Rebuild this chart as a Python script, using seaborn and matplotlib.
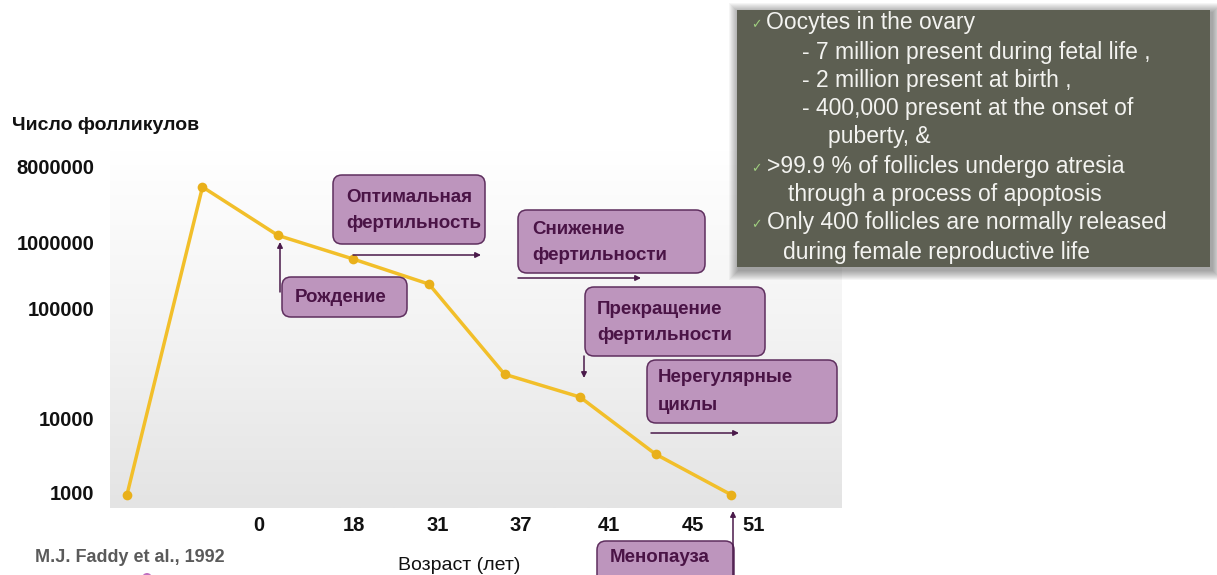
import numpy as np
import pandas as pd
import matplotlib
matplotlib.use("Agg")
import matplotlib.pyplot as plt
import seaborn as sns
from matplotlib.patches import FancyBboxPatch, Rectangle, Circle
from matplotlib.colors import LinearSegmentedColormap

# ---------------- data ----------------
stage = [0, 1, 2, 3, 4, 5, 6, 7, 8]
follicles = [950, 4600000, 1200000, 550000, 230000, 25000, 15500, 3300, 950]
age_labels = ["0", "18", "31", "37", "41", "45", "51"]
y_tick_values = [1000, 10000, 100000, 1000000, 8000000]
y_tick_labels = ["1000", "10000", "100000", "1000000", "8000000"]
phase_texts = ["Оптимальная\nфертильность", "Снижение\nфертильности", "Рождение",
               "Прекращение\nфертильности", "Нерегулярные\nциклы", "Менопауза"]
panel_lines = [
    "Oocytes in the ovary",
    "- 7 million present during fetal life ,",
    "- 2 million present at birth ,",
    "- 400,000 present at the onset of",
    "puberty, &",
    ">99.9 % of follicles undergo atresia",
    "through a process of apoptosis",
    "Only 400 follicles are normally released",
    "during female reproductive life",
]
y_title = "Число фолликулов"
x_title = "Возраст (лет)"
source = "M.J. Faddy et al., 1992"

df = pd.DataFrame({"stage": stage, "follicles": follicles})

# ---------------- style ----------------
sns.set_theme(style="white")
plt.rcParams["font.family"] = ["Liberation Sans", "DejaVu Sans"]

W, H = 1217, 575
fig = plt.figure(figsize=(W / 100, H / 100), dpi=100)

# plot area in pixels
L, R, B, T = 110, 842, 508, 150
rect = [L / W, 1 - B / H, (R - L) / W, (B - T) / H]

# gradient background
bg = fig.add_axes(rect, zorder=0)
cmap = LinearSegmentedColormap.from_list("g", ["#ffffff", "#f3f3f3", "#e4e4e4"])
grad = np.linspace(0, 1, 256).reshape(-1, 1)
bg.imshow(grad, aspect="auto", cmap=cmap, extent=[0, 1, 0, 1], origin="upper")
bg.set_axis_off()

ax = fig.add_axes(rect, zorder=1)
ax.patch.set_alpha(0)

# non-uniform "log-like" axis of the original slide
_LOG = np.array([2.0, 3.0, 4.0, 5.0, 6.0, np.log10(8e6), 8.0])
_POS = np.array([-60.0, 15.0, 90.0, 200.0, 266.0, 341.0, 432.0])


def fwd(v):
    v = np.asarray(v, dtype=float)
    lv = np.log10(np.clip(v, 1e-10, None))
    return np.interp(lv, _LOG, _POS)


def inv(p):
    return 10 ** np.interp(np.asarray(p, dtype=float), _POS, _LOG)


sns.lineplot(data=df, x="stage", y="follicles", ax=ax, color="#f2bf2a",
             linewidth=2.5, marker="o", markersize=7, markeredgewidth=0,
             markerfacecolor="#e9b01a")
ax.set_yscale("function", functions=(fwd, inv))
ax.set_ylim(inv(0), inv(B - T))
ax.set_xlim(-0.225, 9.47)

ax.set_yticks(y_tick_values)
ax.set_yticklabels(y_tick_labels, fontsize=14.5, fontweight="bold", color="#111111")
age_pos = [1.74, 3.0, 4.11, 5.22, 6.38, 7.5, 8.3]
ax.set_xticks(age_pos)
ax.set_xticklabels(age_labels, fontsize=14.5, fontweight="bold", color="#111111")
ax.yaxis.set_minor_locator(matplotlib.ticker.NullLocator())
ax.tick_params(axis="y", length=0, pad=11)
ax.tick_params(axis="x", length=0, pad=6)
ax.set_ylabel("")
ax.set_xlabel(x_title, fontsize=14, color="#111111")
ax.xaxis.set_label_coords((459 - L) / (R - L), -(557 - B) / (B - T))
for s in ax.spines.values():
    s.set_visible(False)
ax.grid(False)

# ---------------- overlay in pixel units ----------------
ov = fig.add_axes([0, 0, 1, 1], zorder=5)
ov.set_xlim(0, W)
ov.set_ylim(H, 0)
ov.set_axis_off()
ov.patch.set_alpha(0)

PURPLE_FILL = "#bd95bd"
PURPLE_EDGE = "#5e2e5e"
PURPLE_TEXT = "#4a1446"

boxes = [
    (333, 175, 485, 244, 346, [197, 223]),
    (518, 210, 705, 273, 532, [230, 256]),
    (282, 277, 407, 317, 295, [297]),
    (585, 287, 765, 356, 597, [310, 336]),
    (647, 360, 837, 423, 658, [378, 406]),
    (597, 541, 734, 600, 610, [558]),
]
for (x0, y0, x1, y1, tx, tys), txt in zip(boxes, phase_texts):
    ov.add_patch(FancyBboxPatch((x0, y0), x1 - x0, y1 - y0,
                                boxstyle="round,pad=0,rounding_size=9",
                                facecolor=PURPLE_FILL, edgecolor=PURPLE_EDGE,
                                linewidth=1.1))
    for line, ty in zip(txt.split("\n"), tys):
        ov.text(tx, ty, line, fontsize=13.5, fontweight="bold", color=PURPLE_TEXT,
                ha="left", va="center")

arrows = [((353, 255), (481, 255)), ((518, 278), (641, 278)),
          ((280, 292), (280, 242)), ((584, 356), (584, 378)),
          ((651, 433), (739, 433)), ((733, 575), (733, 511))]
for start, end in arrows:
    ov.annotate("", xy=end, xytext=start,
                arrowprops=dict(arrowstyle="-|>", color="#4a1a4a", lw=1.1,
                                mutation_scale=8, shrinkA=0, shrinkB=0))

# text panel with soft shadow
px0, py0, px1, py1 = 737, 10, 1210, 267
for i in range(10, 0, -1):
    ov.add_patch(Rectangle((px0 - i + 2, py0 - i + 3), (px1 - px0) + 2 * i,
                           (py1 - py0) + 2 * i, facecolor="#000000",
                           alpha=0.04, linewidth=0))
ov.add_patch(Rectangle((px0, py0), px1 - px0, py1 - py0,
                       facecolor="#5d5f52", edgecolor="none"))
panel_x = [766, 802, 802, 802, 828, 767, 788, 767, 783]
panel_y = [23, 52, 80, 108, 137, 167, 195, 223, 252]
checks = [0, 5, 7]
for i, (line, lx, ly) in enumerate(zip(panel_lines, panel_x, panel_y)):
    ov.text(lx, ly, line, fontsize=16.5, color="#f3f3f0", ha="left", va="center")
    if i in checks:
        ov.text(751, ly + 2, "✓", fontsize=9, color="#9fcf7f", ha="left",
                va="center", family=["DejaVu Sans"])

# titles
ov.text(12, 125, y_title, fontsize=14, fontweight="bold", color="#111111",
        ha="left", va="center")
ov.text(35, 557, source, fontsize=13, fontweight="bold", color="#5a5a5a",
        ha="left", va="center")
ov.add_patch(Circle((147, 578), 5, facecolor="#c070c0", edgecolor="none"))

fig.savefig("out.png", dpi=100)
